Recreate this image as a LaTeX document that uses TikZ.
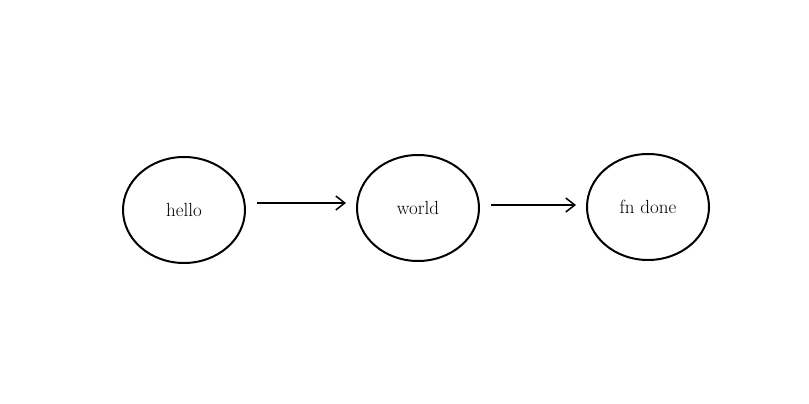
\documentclass[tikz,border=0pt]{standalone}
\usepackage{tikz}
\usetikzlibrary{positioning,shapes.geometric,arrows.meta}

\begin{document}
\begin{tikzpicture}
                [x=1pt,y=1pt,node distance=110pt,
                n/.style={ellipse,draw,line width=2pt,minimum width=122pt,minimum height=106pt,inner sep=0pt,font=\fontsize{19}{22}\selectfont},
                arr/.style={line width=1.5pt,-{Straight Barb[length=9pt,width=14pt,line width=1.5pt]},shorten <=11pt,shorten >=10pt}]
                \useasboundingbox (0,0) rectangle (809,404);
                \node[n] (hello) at (184,194){hello};
                \node[n] (world)[right=of hello,yshift=2pt]{world};
                \node[n,node distance=106pt] (done)[right=of world,yshift=1pt]{fn done};
                \draw[arr] ([yshift=7pt]hello.east) -- ([yshift=5pt]world.west);
                \draw[arr] ([yshift=3pt]world.east) -- ([yshift=2pt]done.west);
            \end{tikzpicture}
\end{document}
